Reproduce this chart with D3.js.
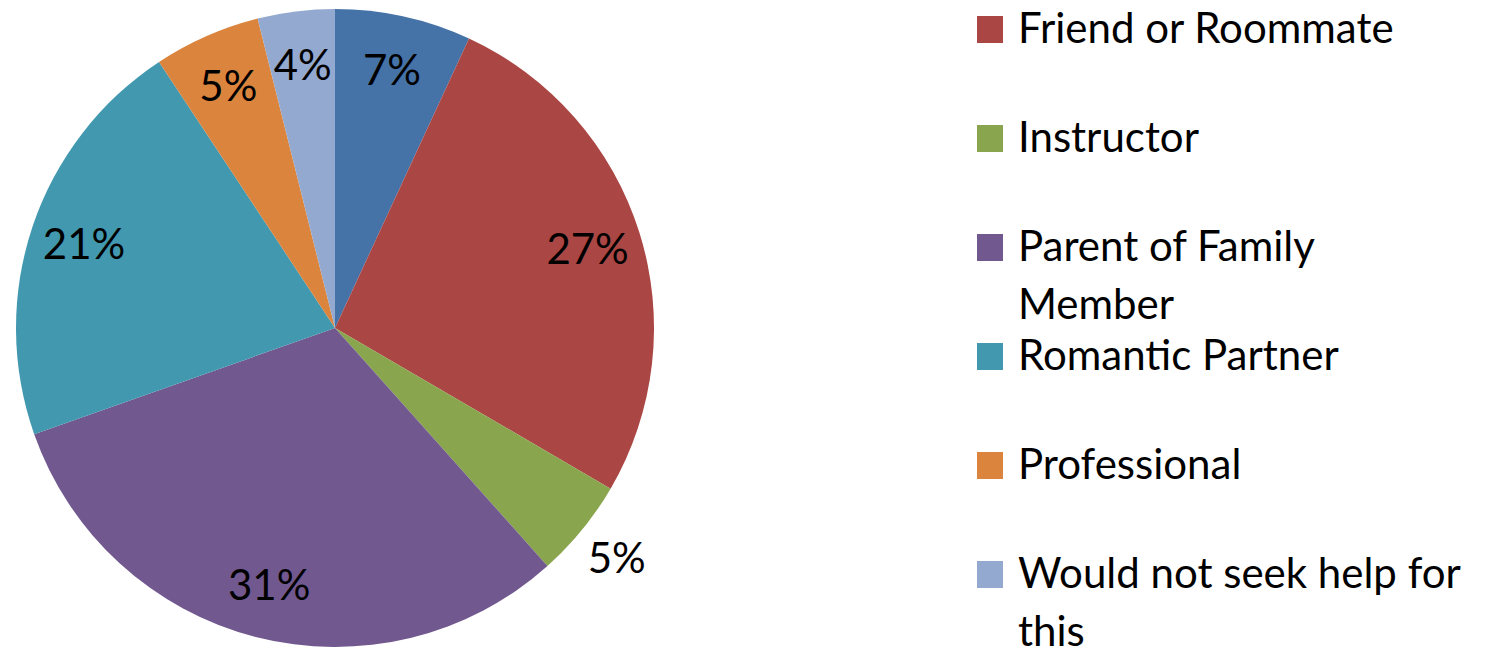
<!DOCTYPE html>
<html>
<head>
<meta charset="utf-8">
<script src="https://cdn.jsdelivr.net/npm/d3@7"></script>
<style>
  body { margin: 0; background: #fff; }
  svg { display: block; }
  text { font-family: Lato, "Open Sans", sans-serif; fill: #000; }
</style>
</head>
<body>
<svg id="chart" width="1505" height="647"></svg>
<script>
// share of responses (clockwise from 12 o'clock)
const categories = ["Academic Advisor", "Friend or Roommate", "Instructor", "Parent of Family Member",
    "Romantic Partner", "Professional", "Would not seek help for this"]
const values = [6.9, 26.5, 5.0, 31.2, 21.1, 5.4, 3.9]
const colors = ["#4572A7", "#AA4643", "#89A54E", "#71588F", "#4198AF", "#DB843D", "#93A9CF"]
// the small green slice gets its label outside the pie
const outsideLabels = ["Instructor"]

const width = 1505, height = 647
const cx = 335, cy = 328, radius = 319
const fontSize = 42

const data = categories.map((c, i) => ({name: c, value: values[i], color: colors[i], index: i}))
const total = d3.sum(values)

const svg = d3.select("#chart")
const pieGroup = svg.append("g")
    .attr("transform", "translate(" + cx + "," + cy + ")")

const pie = d3.pie().sort(null).value(d => d.value)
const arc = d3.arc().innerRadius(0).outerRadius(radius)
const arcs = pie(data)

pieGroup.selectAll("path.slice")
    .data(arcs)
    .enter().append("path")
    .attr("class", "slice")
    .attr("fill", d => d.data.color)
    .attr("d", arc)

const insideArc = d3.arc().innerRadius(radius * 0.83).outerRadius(radius * 0.83)
const outsideArc = d3.arc().innerRadius(radius * 1.14).outerRadius(radius * 1.14)

pieGroup.selectAll("text.pct")
    .data(arcs)
    .enter().append("text")
    .attr("class", "pct")
    .attr("transform", d => {
        const a = outsideLabels.includes(d.data.name) ? outsideArc : insideArc
        return "translate(" + a.centroid(d) + ")"
    })
    .attr("text-anchor", "middle")
    .attr("dy", "0.36em")
    .style("font-size", fontSize + "px")
    .text(d => Math.round(d.data.value / total * 100) + "%")

// legend: evenly spaced entries; the first one is scrolled above the visible area
const legendY = d3.scaleLinear().domain([0, 1]).range([-93, 16])
const legend = svg.append("g").attr("class", "legend")
const items = legend.selectAll("g.item")
    .data(data.filter(d => legendY(d.index) >= 0))
    .enter().append("g")
    .attr("class", "item")
    .attr("transform", d => "translate(977," + legendY(d.index) + ")")

items.append("rect")
    .attr("width", 26)
    .attr("height", 27)
    .attr("fill", d => d.color)

items.append("text")
    .attr("x", 41)
    .attr("y", 27)
    .style("font-size", fontSize + "px")
    .each(function (d) {
        const t = d3.select(this)
        const words = d.name.split(" ")
        const maxW = 462
        let line = []
        let tspan = t.append("tspan").attr("x", 41).attr("dy", 0)
        words.forEach(w => {
            line.push(w)
            tspan.text(line.join(" "))
            if (tspan.node().getComputedTextLength() > maxW && line.length > 1) {
                line.pop()
                tspan.text(line.join(" "))
                line = [w]
                tspan = t.append("tspan").attr("x", 41).attr("dy", 58).text(w)
            }
        })
    })
</script>
</body>
</html>
